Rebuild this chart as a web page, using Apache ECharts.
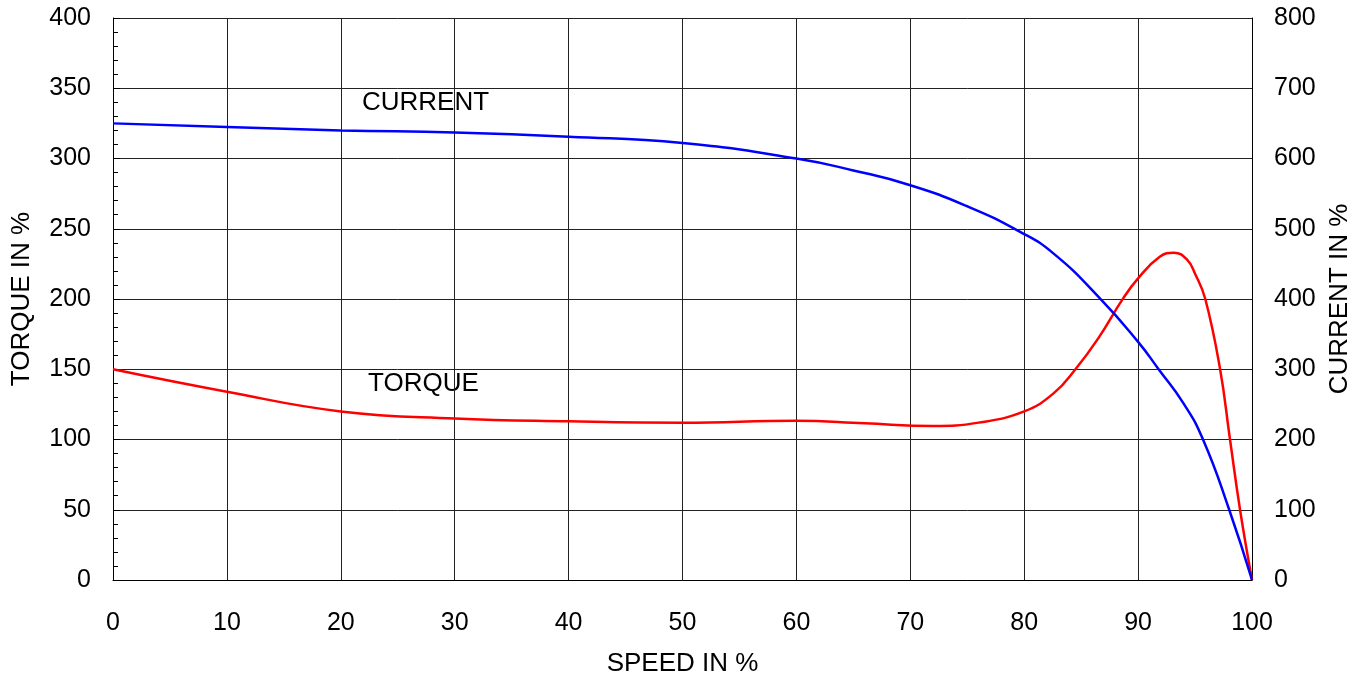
<!DOCTYPE html>
<html><head><meta charset="utf-8">
<script src="https://cdn.jsdelivr.net/npm/echarts@6/dist/echarts.min.js"></script>
<style>html,body{margin:0;padding:0;background:#fff}#c{width:1365px;height:678px}</style>
</head><body><div id="c"></div>
<script>
const speedTicks = [0,10,20,30,40,50,60,70,80,90,100];
const torqueSpeed = [0,10,20,30,40,50,60,66,72,76,80,82.6,84.5,86.5,88.7,90,91.9,93.15,94.3,95,95.9,97.2,98.07,98.95,100];
const torqueVals  = [150,134,120,115,113,112,113.4,111.5,109.6,112,120,133,150,172,200.6,214.7,230,233,228,218,200,150,100,50,0];
const currentSpeed = [0,10,20,30,40,50,60,65,70,75,79.6,82.56,86.65,90,91.8,94,95.7,98,100];
const currentVals  = [650,645,640,637,631,622,600,583,562,532,496,465,401,339,300,251,200,100,0];
const font = "Liberation Sans, Arial, sans-serif";
const FS = 25, NS = 26;
const chart = echarts.init(document.getElementById('c'));
chart.setOption({
  animation:false,
  backgroundColor:'#fff',
  grid:{left:113,right:113,top:18,bottom:98,containLabel:false,outerBoundsMode:'none'},
  xAxis:{type:'value',min:0,max:100,interval:10,
    name:'SPEED IN %',nameLocation:'middle',nameGap:71,
    nameTextStyle:{color:'#000',fontSize:NS,fontFamily:font},
    axisLine:{lineStyle:{color:'#000',width:1}},
    axisTick:{show:false},
    axisLabel:{color:'#000',fontSize:FS,fontFamily:font,margin:31},
    splitLine:{show:true,lineStyle:{color:'#222',width:1}}},
  yAxis:[
    {type:'value',min:0,max:400,interval:50,position:'left',
     name:'TORQUE IN %',nameLocation:'middle',nameGap:91,nameRotate:90,
     nameTextStyle:{color:'#000',fontSize:NS,fontFamily:font,verticalAlign:'middle'},
     axisLine:{show:true,lineStyle:{color:'#000',width:1}},
     axisTick:{show:true,inside:true,length:7,lineStyle:{color:'#000'}},
     minorTick:{show:true,splitNumber:5,length:5,lineStyle:{color:'#000'}},
     axisLabel:{color:'#000',fontSize:FS,fontFamily:font,margin:22},
     splitLine:{show:true,lineStyle:{color:'#222',width:1}}},
    {type:'value',min:0,max:800,interval:100,position:'right',
     name:'CURRENT IN %',nameLocation:'middle',nameGap:88,nameRotate:90,
     nameTextStyle:{color:'#000',fontSize:NS,fontFamily:font,verticalAlign:'middle'},
     axisLine:{show:true,lineStyle:{color:'#000',width:1}},
     axisTick:{show:false},
     axisLabel:{color:'#000',fontSize:FS,fontFamily:font,margin:22},
     splitLine:{show:false}}
  ],
  series:[
    {type:'line',name:'TORQUE',yAxisIndex:0,smooth:0.45,symbol:'none',
     lineStyle:{color:'#ff0000',width:2.5},
     data:torqueSpeed.map((s,i)=>[s,torqueVals[i]])},
    {type:'line',name:'CURRENT',yAxisIndex:1,smooth:0.5,symbol:'none',
     lineStyle:{color:'#0000ff',width:2.5},
     data:currentSpeed.map((s,i)=>[s,currentVals[i]])}
  ],
  graphic:[
    {type:'text',x:362,y:103,style:{text:'CURRENT',fill:'#000',fontSize:NS,fontFamily:font,verticalAlign:'middle'}},
    {type:'text',x:368,y:384,style:{text:'TORQUE',fill:'#000',fontSize:NS,fontFamily:font,verticalAlign:'middle'}}
  ]
});
</script></body></html>
